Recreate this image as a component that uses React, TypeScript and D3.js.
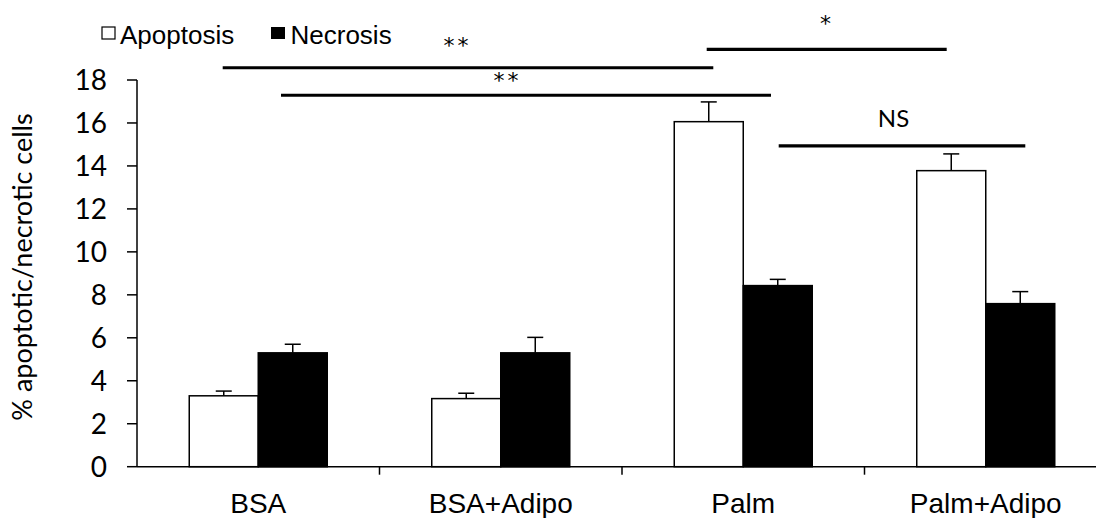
import React from "react";
import * as d3 from "d3";

const categories = ["BSA", "BSA+Adipo", "Palm", "Palm+Adipo"];
const seriesNames = ["Apoptosis", "Necrosis"];
const apoptosis = [3.3, 3.17, 16.06, 13.78];
const apoptosisErr = [0.22, 0.25, 0.92, 0.78];
const necrosis = [5.3, 5.3, 8.43, 7.59];
const necrosisErr = [0.4, 0.72, 0.29, 0.56];
const yTicks = [0, 2, 4, 6, 8, 10, 12, 14, 16, 18];
// significance lines: value level on the y scale and label
const sigLevels = [18.57, 17.29, 19.43, 14.93];
const sigLabels = ["**", "**", "*", "NS"];
const sigStart = [222.7, 281, 706.7, 778.7];
const sigEnd = [713.3, 771, 946.7, 1025.3];
const sigTextX = [457.5, 507.5, 827, 893.5];
const sigTextY = [53, 88, 31, 127];

const W = 1096;
const H = 518;
const left = 137;
const right = 1107;
const y0 = 466.7;
const y18 = 80;

export default function App() {
  const x = d3.scaleBand<string>().domain(categories).range([left, right]).padding(0);
  const y = d3.scaleLinear().domain([0, 18]).range([y0, y18]);
  const groupW = 138;
  const x1 = d3.scaleBand<string>().domain(seriesNames).range([0, groupW]).padding(0);
  const gx = (i: number) => (x(categories[i]) as number) + x.bandwidth() / 2 - groupW / 2;
  const data = [
    { name: "Apoptosis", vals: apoptosis, errs: apoptosisErr, fill: "#fff" },
    { name: "Necrosis", vals: necrosis, errs: necrosisErr, fill: "#000" },
  ];
  const cal = "Lato, 'Open Sans', sans-serif";
  const ari = "'Liberation Sans', Arial, sans-serif";
  const dv = "'DejaVu Sans', sans-serif";

  return (
    <svg width={W} height={H} style={{ position: "absolute", left: 0, top: 0, background: "#fff" }}>
      {/* bars */}
      {data.map((s) =>
        s.vals.map((v, i) => {
          const bx = gx(i) + (x1(s.name) as number);
          const bw = x1.bandwidth();
          const cx = bx + bw / 2;
          return (
            <g key={s.name + i}>
              <line x1={cx} x2={cx} y1={y(v)} y2={y(v + s.errs[i])} stroke="#000" strokeWidth={1.5} />
              <line x1={cx - 8} x2={cx + 8} y1={y(v + s.errs[i])} y2={y(v + s.errs[i])} stroke="#000" strokeWidth={1.5} />
              <rect x={bx} y={y(v)} width={bw} height={y0 - y(v)} fill={s.fill} stroke="#000" strokeWidth={1.5} />
            </g>
          );
        })
      )}
      {/* y axis */}
      <line x1={left} x2={left} y1={y18} y2={y0} stroke="#000" strokeWidth={1.5} />
      {yTicks.map((t) => (
        <g key={t}>
          <line x1={left - 10} x2={left} y1={y(t)} y2={y(t)} stroke="#000" strokeWidth={1.5} />
          <text x={107} y={y(t)} dy="0.36em" textAnchor="end" fontFamily={cal} fontSize={28} fill="#000">
            {t}
          </text>
        </g>
      ))}
      {/* x axis */}
      <line x1={left} x2={W} y1={y0} y2={y0} stroke="#000" strokeWidth={1.5} />
      {categories.slice(1).map((c) => (
        <line key={c} x1={x(c) as number} x2={x(c) as number} y1={y0} y2={y0 + 8} stroke="#000" strokeWidth={1.5} />
      ))}
      {categories.map((c) => (
        <text key={c} x={(x(c) as number) + x.bandwidth() / 2} y={513} textAnchor="middle" fontFamily={ari} fontSize={28} fill="#000">
          {c}
        </text>
      ))}
      {/* y title */}
      <text transform={`translate(32,267) rotate(-90)`} textAnchor="middle" fontFamily={cal} fontSize={27} fill="#000">
        % apoptotic/necrotic cells
      </text>
      {/* significance */}
      {sigLevels.map((lv, i) => {
        const ly = y(lv);
        const isNS = sigLabels[i] === "NS";
        return (
          <g key={i}>
            <line x1={sigStart[i]} x2={sigEnd[i]} y1={ly} y2={ly} stroke="#000" strokeWidth={3.2} />
            <text
              x={sigTextX[i]}
              y={sigTextY[i]}
              textAnchor="middle"
              fontFamily={isNS ? cal : dv}
              fontSize={isNS ? 24 : 22}
              fill="#000"
              letterSpacing={isNS ? 0 : 3}
            >
              {sigLabels[i]}
            </text>
          </g>
        );
      })}
      {/* legend */}
      <rect x={102} y={27} width={13} height={12} fill="#fff" stroke="#000" strokeWidth={1.2} />
      <text x={120} y={44} fontFamily={ari} fontSize={26} fill="#000">Apoptosis</text>
      <rect x={271} y={27} width={14} height={12} fill="#000" />
      <text x={290.5} y={44} fontFamily={ari} fontSize={26} fill="#000">Necrosis</text>
    </svg>
  );
}
